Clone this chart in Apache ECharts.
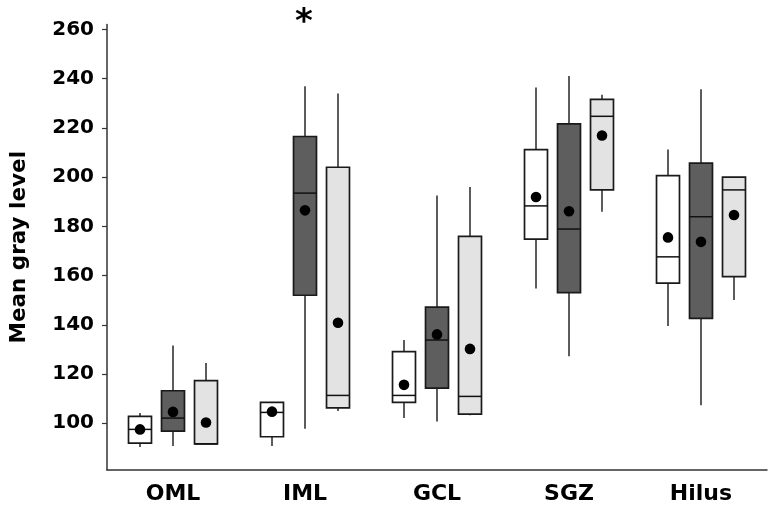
<!DOCTYPE html>
<html>
<head>
<meta charset="utf-8">
<script src="https://cdn.jsdelivr.net/npm/echarts@6/dist/echarts.min.js"></script>
<style>
html,body{margin:0;padding:0;background:#fff;}
#chart{width:774px;height:510px;}
</style>
</head>
<body>
<div id="chart"></div>
<script>
// ---- data ----
const categories = ['OML', 'IML', 'GCL', 'SGZ', 'Hilus'];
const yTicks = [100, 120, 140, 160, 180, 200, 220, 240, 260];
// [lower whisker, Q1, median, Q3, upper whisker]
const whiteBoxes = [
  [90.3, 91.9, 97.5, 102.8, 104.2],
  [90.8, 94.5, 104.4, 108.5, 108.5],
  [102.1, 108.5, 111.3, 129.1, 133.8],
  [154.7, 174.8, 188.3, 211.2, 236.4],
  [139.5, 156.9, 167.6, 200.6, 211.2]
];
const whiteMeans = [97.5, 104.7, 115.6, 191.9, 175.5];
const darkBoxes = [
  [90.8, 96.8, 102.1, 113.2, 131.6],
  [97.8, 152.0, 193.5, 216.5, 236.9],
  [100.7, 114.3, 133.8, 147.2, 192.5],
  [127.2, 153.1, 178.9, 221.6, 241.1],
  [107.3, 142.6, 183.9, 205.7, 235.7]
];
const darkMeans = [104.6, 186.5, 136.1, 186.1, 173.7];
const lightBoxes = [
  [91.6, 91.6, 91.6, 117.3, 124.5],
  [105.0, 106.2, 111.3, 204.0, 234.0],
  [103.2, 103.7, 110.9, 175.9, 196.0],
  [185.9, 194.8, 224.7, 231.6, 233.5],
  [150.1, 159.6, 194.8, 200.0, 200.0]
];
const lightMeans = [100.3, 140.8, 130.2, 216.9, 184.6];
// significance marker (group index 1 = dark boxes)
const significant = ['IML'];

const Y_MIN = 81, Y_MAX = 262;
const FONT = '"DejaVu Sans", sans-serif';

const groups = [
  { name: 'Group 1', boxes: whiteBoxes, means: whiteMeans, fill: '#ffffff', off: -0.25, sig: false },
  { name: 'Group 2', boxes: darkBoxes, means: darkMeans, fill: '#5e5e5e', off: 0, sig: true },
  { name: 'Group 3', boxes: lightBoxes, means: lightMeans, fill: '#e3e3e3', off: 0.25, sig: false }
];

function makeSeries(g) {
  const data = g.boxes.map((b, i) => [i, b[0], b[1], b[2], b[3], b[4], g.means[i]]);
  return {
    type: 'custom',
    name: g.name,
    clip: false,
    encode: { x: 0, y: [1, 2, 3, 4, 5, 6] },
    data: data,
    renderItem: function (params, api) {
      const idx = api.value(0);
      const band = api.size([1, 0])[0];
      const cx = api.coord([idx, Y_MIN])[0] + g.off * band;
      const hw = band * 0.087;
      const Y = v => api.coord([idx, v])[1];
      const lo = Y(api.value(1)), q1 = Y(api.value(2)), med = Y(api.value(3)),
            q3 = Y(api.value(4)), hi = Y(api.value(5)), mean = Y(api.value(6));
      const lineStyle = { stroke: '#262626', lineWidth: 1.5 };
      const children = [
        { type: 'line', shape: { x1: cx, y1: hi, x2: cx, y2: q3 }, style: lineStyle },
        { type: 'line', shape: { x1: cx, y1: q1, x2: cx, y2: lo }, style: lineStyle },
        { type: 'rect', shape: { x: cx - hw, y: q3, width: hw * 2, height: q1 - q3 },
          style: { fill: g.fill, stroke: '#1a1a1a', lineWidth: 1.7 } },
        { type: 'line', shape: { x1: cx - hw, y1: med, x2: cx + hw, y2: med },
          style: { stroke: '#111', lineWidth: 1.5 } },
        { type: 'circle', shape: { cx: cx, cy: mean, r: 5.3 }, style: { fill: '#000' } }
      ];
      if (g.sig && significant.indexOf(categories[idx]) >= 0) {
        children.push({
          type: 'text',
          style: {
            text: '*', x: cx - 1, y: api.coord([idx, Y_MAX])[1] - 1,
            font: 'bold 34px ' + FONT, fill: '#000',
            align: 'center', verticalAlign: 'middle'
          }
        });
      }
      return { type: 'group', children: children };
    },
    z: 3
  };
}

const chart = echarts.init(document.getElementById('chart'), null, { renderer: 'canvas' });
chart.setOption({
  animation: false,
  backgroundColor: '#ffffff',
  grid: { left: 107, right: 7, top: 24.5, bottom: 40, containLabel: false },
  xAxis: {
    type: 'category',
    data: categories,
    boundaryGap: true,
    axisLine: { lineStyle: { color: '#333', width: 1.5 } },
    axisTick: { alignWithLabel: true, length: 4, lineStyle: { color: '#333', width: 1.2 } },
    axisLabel: { color: '#000', fontFamily: FONT, fontWeight: 'bold', fontSize: 22, margin: 13 },
    splitLine: { show: false }
  },
  yAxis: {
    type: 'value',
    min: Y_MIN,
    max: Y_MAX,
    name: 'Mean gray level',
    nameLocation: 'middle',
    nameGap: 77,
    nameRotate: 90,
    nameTextStyle: { color: '#000', fontFamily: FONT, fontWeight: 'bold', fontSize: 21.5 },
    axisLine: { show: true, lineStyle: { color: '#333', width: 1.5 } },
    axisTick: { show: true, length: 5, customValues: yTicks, lineStyle: { color: '#333', width: 1.2 } },
    axisLabel: { customValues: yTicks, color: '#000', fontFamily: FONT, fontWeight: 'bold', fontSize: 20, margin: 13 },
    splitLine: { show: false }
  },
  series: groups.map(makeSeries)
});
</script>
</body>
</html>
